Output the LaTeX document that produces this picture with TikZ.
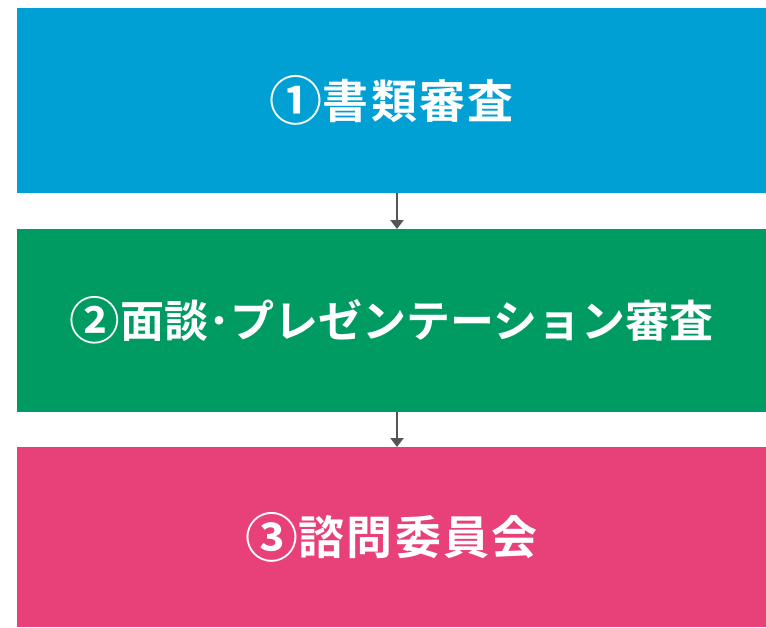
\documentclass[tikz,border=0pt]{standalone}
\usepackage{fontspec}
\newfontfamily\cjk{Noto Sans CJK JP}[BoldFont={Noto Sans CJK JP Bold}]
\newfontfamily\cjkwide{Noto Sans CJK JP}[BoldFont={Noto Sans CJK JP Bold},LetterSpace=5]
\usetikzlibrary{arrows.meta}
\definecolor{cblue}{HTML}{00A0D5}
\definecolor{cgreen}{HTML}{009B63}
\definecolor{cpink}{HTML}{E8417A}
\definecolor{carrow}{HTML}{555555}
\newcommand{\bignum}[1]{\raisebox{-0.06em}{\scalebox{1.15}{#1}}}
\begin{document}
\begin{tikzpicture}[x=1pt,y=-1pt,
  stagebox/.style={draw=none,minimum width=749pt,anchor=north west,inner sep=0pt,text=white},
  widetext/.style={font=\cjkwide\bfseries\fontsize{46}{52}\selectfont},
  longtext/.style={font=\cjk\bfseries\fontsize{44}{50}\selectfont},
  flow/.style={draw=carrow,line width=2.5pt,-{Stealth[length=9pt,width=13pt,inset=0pt]}}]
\useasboundingbox (0,0) rectangle (766,627);
\node[stagebox,widetext,fill=cblue,minimum height=185pt] (s1) at (17,8) {\bignum{①}書類審査};
\node[stagebox,longtext,fill=cgreen,minimum height=183pt] (s2) at (17,229) {\bignum{②}面談･プレゼンテーション審査};
\node[stagebox,widetext,fill=cpink,minimum height=180pt] (s3) at (17,447) {\bignum{③}諮問委員会};
\draw[flow] (s1.south -| 397,0) -- (s2.north -| 397,0);
\draw[flow] (s2.south -| 397,0) -- (s3.north -| 397,0);
\end{tikzpicture}
\end{document}
